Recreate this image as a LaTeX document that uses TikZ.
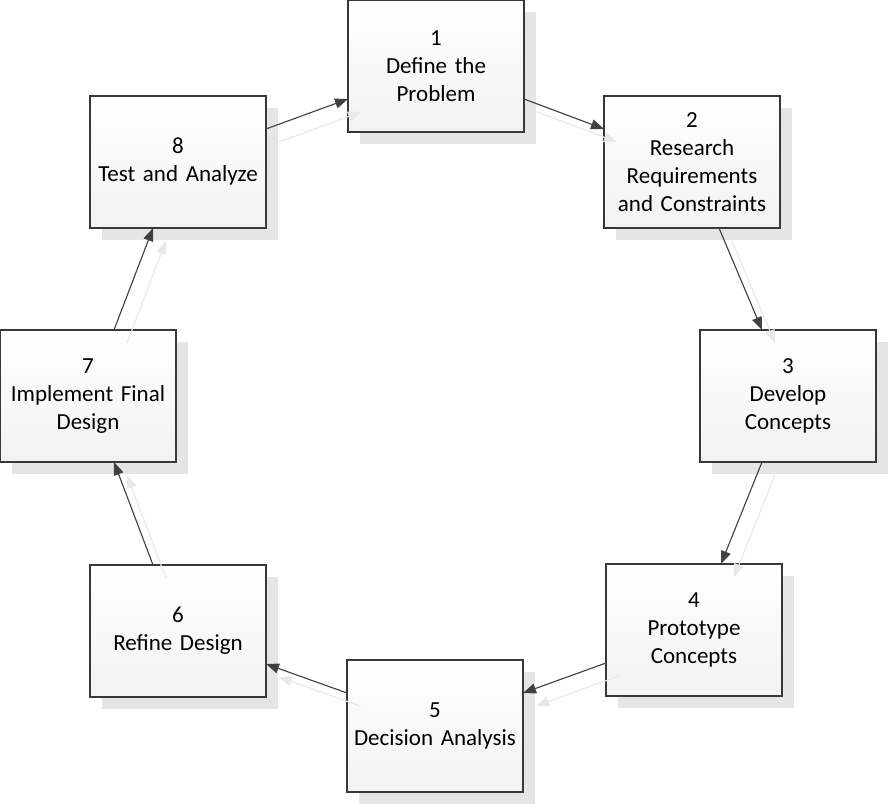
\documentclass[tikz,border=0pt]{standalone}
\usepackage{fontspec}
\setmainfont{Carlito}
\usetikzlibrary{arrows.meta,shadows}

\begin{document}
\begin{tikzpicture}[x=1pt,y=1pt,>={Triangle[length=13pt,width=10pt]}]
        \tikzstyle{phase}=[rectangle, draw=black!78, line width=1.2pt, outer sep=0pt, inner sep=0pt, minimum width=176pt, minimum height=132pt, text width=172pt, align=center, top color=white, bottom color=black!5, font=\fontsize{23}{28}\selectfont, drop shadow={shadow xshift=12pt, shadow yshift=-12pt, fill=black!10, opacity=1}]
        \tikzstyle{link}=[->, draw=black!75, fill=black!75, line width=1.1pt]
        \tikzstyle{ghost}=[->, draw=black!9, fill=black!9, line width=1.1pt, transform canvas={shift={(13pt,-13pt)}}]
        \useasboundingbox (0,0) rectangle (889,805);
        \node[phase] (define) at (436,739) {1\\Define the\\Problem};
        \node[phase] (research) at (692,643) {2\\Research\\Requirements\\and Constraints};
        \node[phase] (develop) at (788,409) {3\\Develop\\Concepts};
        \node[phase] (prototype) at (694,175) {4\\Prototype\\Concepts};
        \node[phase] (decision) at (435,79) {5\\Decision Analysis};
        \node[phase] (refine) at (178,174) {6\\Refine Design};
        \node[phase] (implement) at (88,409) {7\\Implement Final\\Design};
        \node[phase] (test) at (178,643) {8\\Test and Analyze};
        % arrows with their pale shadow copies
        \foreach \s in {ghost,link}{
            \draw[\s] ([yshift=-33pt]define.east) -- ([yshift=33pt]research.west);
            \draw[\s] ([xshift=27pt]research.south) -- ([xshift=-26pt]develop.north);
            \draw[\s] ([xshift=-26pt]develop.south) -- ([xshift=27pt]prototype.north);
            \draw[\s] ([yshift=-33pt]prototype.west) -- ([yshift=33pt]decision.east);
            \draw[\s] ([yshift=33pt]decision.west) -- ([yshift=-33pt]refine.east);
            \draw[\s] ([xshift=-25pt]refine.north) -- ([xshift=26pt]implement.south);
            \draw[\s] ([xshift=26pt]implement.north) -- ([xshift=-25pt]test.south);
            \draw[\s] ([yshift=33pt]test.east) -- ([yshift=-33pt]define.west);
        }
    \end{tikzpicture}
\end{document}
